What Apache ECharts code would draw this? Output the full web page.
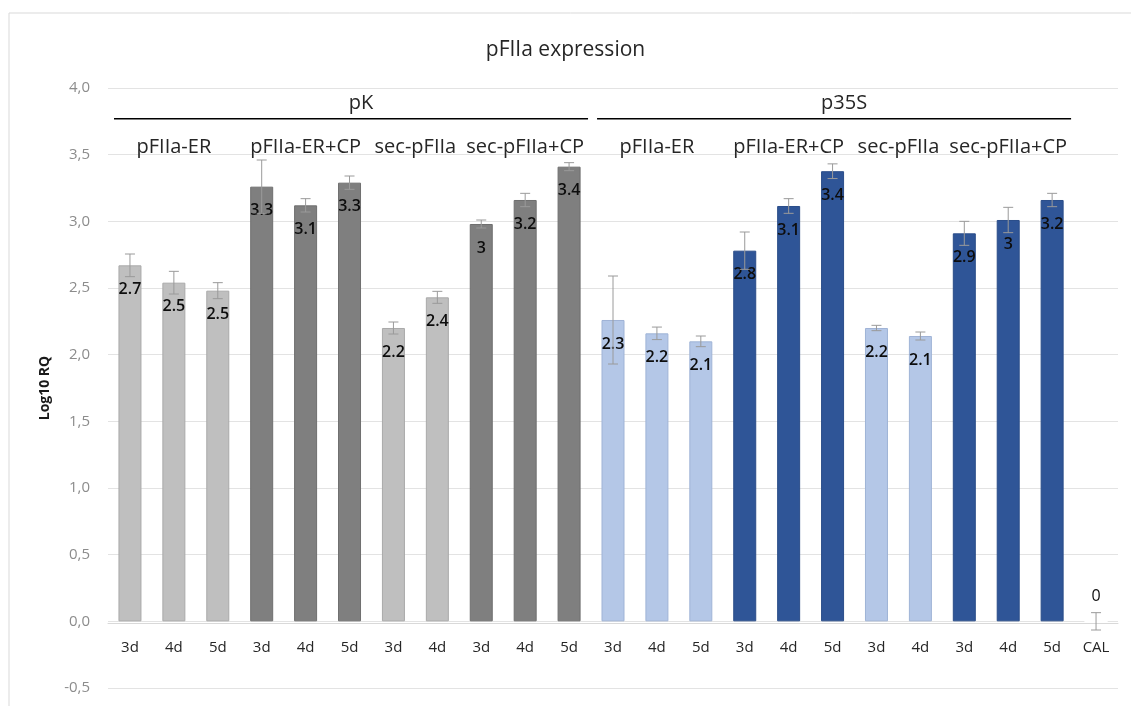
<!DOCTYPE html>
<html>
<head>
<meta charset="utf-8">
<script src="https://cdn.jsdelivr.net/npm/echarts@6/dist/echarts.min.js"></script>
<style>
html,body{margin:0;padding:0;background:#fff;}
#chart{width:1131px;height:706px;}
</style>
</head>
<body>
<div id="chart"></div>
<script>
// ---- data ----
const categories = ['3d','4d','5d','3d','4d','5d','3d','4d','3d','4d','5d',
                    '3d','4d','5d','3d','4d','5d','3d','4d','3d','4d','5d','CAL'];
const values = [2.67, 2.54, 2.48, 3.26, 3.12, 3.29, 2.20, 2.43, 2.98, 3.16, 3.41,
                2.26, 2.16, 2.10, 2.78, 3.115, 3.376, 2.20, 2.14, 2.91, 3.01, 3.16, 0];
const errors = [0.085, 0.085, 0.06, 0.20, 0.05, 0.05, 0.045, 0.045, 0.03, 0.05, 0.03,
                0.33, 0.047, 0.04, 0.14, 0.055, 0.055, 0.02, 0.03, 0.09, 0.095, 0.05, 0.065];
// colour group of each bar: 0 light grey, 1 dark grey, 2 light blue, 3 dark blue, 4 none
const barGroup = [0,0,0,1,1,1,0,0,1,1,1, 2,2,2,3,3,3,2,2,3,3,3, 4];
const subgroupLabels = ['pFIIa-ER','pFIIa-ER+CP','sec-pFIIa','sec-pFIIa+CP',
                        'pFIIa-ER','pFIIa-ER+CP','sec-pFIIa','sec-pFIIa+CP'];
const subgroupStart = [0,3,6,8, 11,14,17,19];
const subgroupEnd   = [2,5,7,10, 13,16,18,21];
const promoterLabels = ['pK','p35S'];
const promoterStart = [0,11];
const promoterEnd = [10,21];
const yTicks = {min:-0.5, max:4, interval:0.5};

const fills   = ['#bfbfbf','#7f7f7f','#b4c7e7','#2f5597','#ffffff'];
const borders = ['#a9a9a9','#6f6f6f','#9fb3d6','#2a4d89','#ffffff'];
const FONT = '"Open Sans", sans-serif';

const chart = echarts.init(document.getElementById('chart'));

function fmtLabel(v){ return String(Number(v.toFixed(1))); }

const option = {
  animation:false,
  backgroundColor:'#fff',
  title:{
    text:'pFIIa expression', left:'center', top:35,
    textStyle:{fontFamily:FONT, fontSize:21, fontWeight:'normal', color:'#262626'}
  },
  grid:{left:108, right:13, top:88, bottom:18, containLabel:false},
  xAxis:{
    type:'category', data:categories,
    axisLine:{onZero:false, lineStyle:{color:'#d9d9d9', width:1}},
    axisTick:{show:false},
    axisLabel:{fontFamily:FONT, fontSize:15, color:'#262626', margin:17, interval:0}
  },
  yAxis:{
    type:'value', min:yTicks.min, max:yTicks.max, interval:yTicks.interval,
    name:'Log10 RQ', nameLocation:'middle', nameGap:56,
    nameTextStyle:{fontFamily:FONT, fontSize:14, fontWeight:'bold', color:'#1a1a1a'},
    axisLine:{show:false}, axisTick:{show:false},
    axisLabel:{fontFamily:FONT, fontSize:15, color:'#8c8c8c', margin:18,
      formatter:v=>v.toFixed(1).replace('.',',')},
    splitLine:{lineStyle:{color:'#e3e3e3', width:1}}
  },
  series:[
    {
      type:'bar', barWidth:23, z:2,
      data: values.map((v,i)=>({
        value:v,
        itemStyle:{color:fills[barGroup[i]], borderColor:borders[barGroup[i]], borderWidth:1},
        label: i===values.length-1 ? {position:'top', distance:16, fontWeight:'normal'} : {}
      })),
      label:{
        show:true, position:'insideTop', distance:16,
        fontFamily:FONT, fontSize:16, color:'#0d0d0d', fontWeight:600,
        formatter:p=>fmtLabel(p.value)
      }
    },
    {
      type:'custom', z:3,
      data: values.map((v,i)=>[i, v, errors[i]]),
      renderItem:(params, api)=>{
        const x = api.value(0), v = api.value(1), e = api.value(2);
        const hi = api.coord([x, v+e]);
        const lo = api.coord([x, v-e]);
        const cap = 5;
        const style = {stroke:'#9a9a9a', lineWidth:1};
        return {type:'group', children:[
          {type:'line', shape:{x1:hi[0], y1:hi[1], x2:lo[0], y2:lo[1]}, style},
          {type:'line', shape:{x1:hi[0]-cap, y1:hi[1], x2:hi[0]+cap, y2:hi[1]}, style},
          {type:'line', shape:{x1:lo[0]-cap, y1:lo[1], x2:lo[0]+cap, y2:lo[1]}, style}
        ]};
      }
    }
  ]
};
chart.setOption(option);

// ---- positions through the axes ----
function px(i){ return chart.convertToPixel({xAxisIndex:0}, i); }
function py(v){ return chart.convertToPixel({yAxisIndex:0}, v); }
// move the category axis up to the zero line
chart.setOption({xAxis:{offset: py(0) - py(yTicks.min)}});

const half = (px(1)-px(0))/2;
const graphics = [];
graphics.push({type:'rect', shape:{x:9, y:13, width:1140, height:720},
  style:{fill:'none', stroke:'#d9d9d9', lineWidth:1}, silent:true});
promoterLabels.forEach((t,k)=>{
  const x1 = px(promoterStart[k]) - half + 6;
  const x2 = px(promoterEnd[k]) + half - 3;
  const yl = py(3.77);
  graphics.push({type:'line', shape:{x1, y1:yl, x2, y2:yl}, style:{stroke:'#000', lineWidth:1.5}});
  graphics.push({type:'text', x:(x1+x2)/2 + 10, y:py(3.885),
    style:{text:t, font:'20px '+FONT, fill:'#262626', textAlign:'center', textVerticalAlign:'middle'}});
});
subgroupLabels.forEach((t,k)=>{
  const cx = (px(subgroupStart[k]) + px(subgroupEnd[k]))/2;
  graphics.push({type:'text', x:cx, y:py(3.555),
    style:{text:t, font:'20px '+FONT, fill:'#262626', textAlign:'center', textVerticalAlign:'middle'}});
});
chart.setOption({graphic:graphics});
</script>
</body>
</html>
